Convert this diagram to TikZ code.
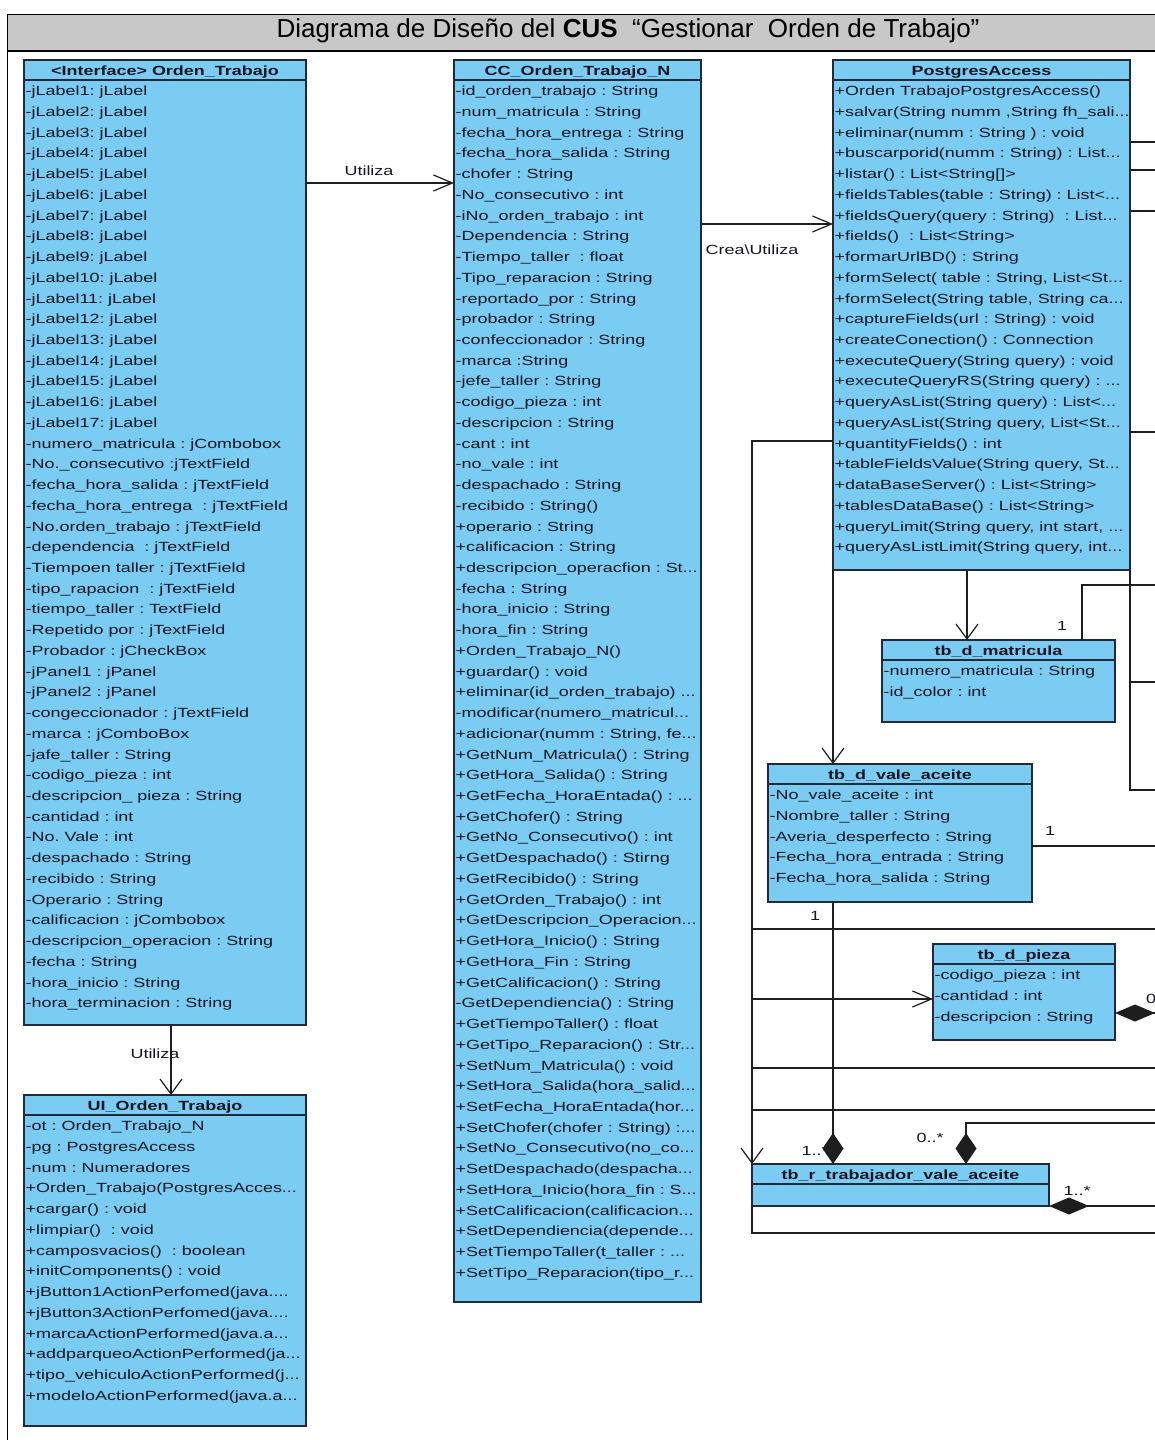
\documentclass[tikz,border=0pt]{standalone}
\usepackage{fontspec}
\setmainfont{Liberation Sans}
\newfontfamily\umlfont[FakeStretch=1.35]{Liberation Sans}
\usetikzlibrary{arrows.meta,calc}

\definecolor{boxblue}{RGB}{122,204,243}
\definecolor{boxline}{RGB}{35,40,58}
\definecolor{headgray}{RGB}{200,200,200}
\definecolor{ink}{RGB}{22,22,34}
\definecolor{wire}{RGB}{30,30,30}

\newcommand\umlsize{\fontsize{13.3}{20.73}\selectfont}
\newcommand\rowstrut{\rule{0pt}{12pt}}

\tikzset{
  umlbox/.style={draw=boxline, fill=boxblue, line width=1.4pt, inner sep=0pt, outer sep=0pt, anchor=north west},
  sepline/.style={draw=boxline, line width=1.2pt},
  headtext/.style={font=\umlfont\bfseries\umlsize, text=ink, inner sep=0pt, anchor=base},
  rowtext/.style={font=\umlfont\umlsize, text=ink, inner sep=0pt, anchor=north west, align=left},
  lbl/.style={font=\umlfont\umlsize, text=ink, inner sep=0pt, anchor=base},
  conn/.style={draw=wire, line width=1.2pt},
  harrow/.style={-{Straight Barb[length=19pt,width=16pt]}},
  varrow/.style={-{Straight Barb[length=15pt,width=22pt]}},
  hdiamond/.style={-{Diamond[length=40pt,width=17pt]}},
  vdiamond/.style={-{Diamond[length=31pt,width=21pt]}},
}

% #1 name, #2 x, #3 y, #4 width, #5 height, #6 class name, #7 compartment rows
\newcommand\umlclass[7]{%
  \node[umlbox, minimum width=#4pt, minimum height=#5pt] (#1) at (#2,#3) {};
  \draw[sepline] ($(#1.north west)+(0,20)$) -- ($(#1.north east)+(0,20)$);
  \node[headtext] (#1-head) at ($(#1.north)+(0,15)$) {#6};
  \begin{scope}
    \clip (#1.north west) rectangle (#1.south east);
    \node[rowtext] (#1-rows) at ($(#1.north west)+(1.5,23.5)$) {\rowstrut#7};
  \end{scope}
}

\begin{document}
\frenchspacing
\begin{tikzpicture}[x=1pt,y=-1pt]
\useasboundingbox (0,0) rectangle (1155,1440);
\clip (0,0) rectangle (1155,1440);
\fill[white] (0,0) rectangle (1155,1440);

% title band and frame
\fill[headgray] (7,14) rectangle (1160,51);
\draw[line width=1pt] (1160,14) -- (7,14) -- (7,1445);
\draw[line width=2pt] (7,51) -- (1160,51);
\node[font=\fontsize{26}{30}\selectfont, anchor=base, inner sep=0pt] (title) at (628,37.5)
  {Diagrama de Diseño del \textbf{CUS}\ \ “Gestionar\ \ Orden de Trabajo”};

% classes
\umlclass{ot}{24}{60}{282}{965}{<Interface> Orden\_Trabajo}{%
-jLabel1: jLabel\\-jLabel2: jLabel\\-jLabel3: jLabel\\-jLabel4: jLabel\\-jLabel5: jLabel\\%
-jLabel6: jLabel\\-jLabel7: jLabel\\-jLabel8: jLabel\\-jLabel9: jLabel\\-jLabel10: jLabel\\%
-jLabel11: jLabel\\-jLabel12: jLabel\\-jLabel13: jLabel\\-jLabel14: jLabel\\-jLabel15: jLabel\\%
-jLabel16: jLabel\\-jLabel17: jLabel\\%
-numero\_matricula : jCombobox\\-No.\_consecutivo :jTextField\\-fecha\_hora\_salida : jTextField\\%
-fecha\_hora\_entrega\ \ : jTextField\\-No.orden\_trabajo : jTextField\\-dependencia\ \ : jTextField\\%
-Tiempoen taller : jTextField\\-tipo\_rapacion\ \ : jTextField\\-tiempo\_taller : TextField\\%
-Repetido por : jTextField\\-Probador : jCheckBox\\-jPanel1 : jPanel\\-jPanel2 : jPanel\\%
-congeccionador : jTextField\\-marca : jComboBox\\-jafe\_taller : String\\-codigo\_pieza : int\\%
-descripcion\_ pieza : String\\-cantidad : int\\-No. Vale : int\\-despachado : String\\%
-recibido : String\\-Operario : String\\-calificacion : jCombobox\\-descripcion\_operacion : String\\%
-fecha : String\\-hora\_inicio : String\\-hora\_terminacion : String}

\umlclass{ui}{24}{1095}{282}{331}{UI\_Orden\_Trabajo}{%
-ot : Orden\_Trabajo\_N\\-pg : PostgresAccess\\-num : Numeradores\\+Orden\_Trabajo(PostgresAcces...\\%
+cargar() : void\\+limpiar()\ \ : void\\+camposvacios()\ \ : boolean\\+initComponents() : void\\%
+jButton1ActionPerfomed(java....\\+jButton3ActionPerfomed(java....\\+marcaActionPerformed(java.a...\\%
+addparqueoActionPerformed(ja...\\+tipo\_vehiculoActionPerformed(j...\\+modeloActionPerformed(java.a...}

\umlclass{cc}{454}{60}{247}{1242}{CC\_Orden\_Trabajo\_N}{%
-id\_orden\_trabajo : String\\-num\_matricula : String\\-fecha\_hora\_entrega : String\\%
-fecha\_hora\_salida : String\\-chofer : String\\-No\_consecutivo : int\\-iNo\_orden\_trabajo : int\\%
-Dependencia : String\\-Tiempo\_taller\ \ : float\\-Tipo\_reparacion : String\\-reportado\_por : String\\%
-probador : String\\-confeccionador : String\\-marca :String\\-jefe\_taller : String\\%
-codigo\_pieza : int\\-descripcion : String\\-cant : int\\-no\_vale : int\\-despachado : String\\%
-recibido : String()\\+operario : String\\+calificacion : String\\+descripcion\_operacfion : St...\\%
-fecha : String\\-hora\_inicio : String\\-hora\_fin : String\\+Orden\_Trabajo\_N()\\+guardar() : void\\%
+eliminar(id\_orden\_trabajo) ...\\-modificar(numero\_matricul...\\+adicionar(numm : String, fe...\\%
+GetNum\_Matricula() : String\\+GetHora\_Salida() : String\\+GetFecha\_HoraEntada() : ...\\%
+GetChofer() : String\\+GetNo\_Consecutivo() : int\\+GetDespachado() : Stirng\\+GetRecibido() : String\\%
+GetOrden\_Trabajo() : int\\+GetDescripcion\_Operacion...\\+GetHora\_Inicio() : String\\%
+GetHora\_Fin : String\\+GetCalificacion() : String\\-GetDependiencia() : String\\%
+GetTiempoTaller() : float\\+GetTipo\_Reparacion() : Str...\\+SetNum\_Matricula() : void\\%
+SetHora\_Salida(hora\_salid...\\+SetFecha\_HoraEntada(hor...\\+SetChofer(chofer : String) :...\\%
+SetNo\_Consecutivo(no\_co...\\+SetDespachado(despacha...\\+SetHora\_Inicio(hora\_fin : S...\\%
+SetCalificacion(calificacion...\\+SetDependiencia(depende...\\+SetTiempoTaller(t\_taller : ...\\%
+SetTipo\_Reparacion(tipo\_r...}

\umlclass{pa}{833}{60}{297}{510}{PostgresAccess}{%
+Orden TrabajoPostgresAccess()\\+salvar(String numm ,String fh\_sali...\\+eliminar(numm : String ) : void\\%
+buscarporid(numm : String) : List...\\+listar() : List<String[]>\\+fieldsTables(table : String) : List<...\\%
+fieldsQuery(query : String)\ \ : List...\\+fields()\ \ : List<String>\\+formarUrlBD() : String\\%
+formSelect( table : String, List<St...\\+formSelect(String table, String ca...\\%
+captureFields(url : String) : void\\+createConection() : Connection\\+executeQuery(String query) : void\\%
+executeQueryRS(String query) : ...\\+queryAsList(String query) : List<...\\%
+queryAsList(String query, List<St...\\+quantityFields() : int\\+tableFieldsValue(String query, St...\\%
+dataBaseServer() : List<String>\\+tablesDataBase() : List<String>\\%
+queryLimit(String query, int start, ...\\+queryAsListLimit(String query, int...}

\umlclass{mat}{882}{640}{233}{82}{tb\_d\_matricula}{%
-numero\_matricula : String\\-id\_color : int}

\umlclass{va}{768}{764}{264}{138}{tb\_d\_vale\_aceite}{%
-No\_vale\_aceite : int\\-Nombre\_taller : String\\-Averia\_desperfecto : String\\%
-Fecha\_hora\_entrada : String\\-Fecha\_hora\_salida : String}

\umlclass{pz}{933}{944}{182}{96}{tb\_d\_pieza}{%
-codigo\_pieza : int\\-cantidad : int\\-descripcion : String}

\umlclass{tbr}{752}{1164}{297}{42}{tb\_r\_trabajador\_vale\_aceite}{}

% free ends at the right border
\coordinate (e8) at (1160,1123);
\coordinate (e9) at (1160,1206);
\coordinate (e10) at (1160,1013);
\coordinate (e11) at (1160,846);
\coordinate (e12) at (1160,585);
\coordinate (e13a) at (1160,142);
\coordinate (e13b) at (1160,170);
\coordinate (e13c) at (1160,211);
\coordinate (e13d) at (1160,432);
\coordinate (e14a) at (1160,790);
\coordinate (e14b) at (1160,682);
\coordinate (e15a) at (1160,929);
\coordinate (e15c) at (1160,1068);
\coordinate (e15d) at (1160,1110);
\coordinate (e16) at (1160,1233);
% junctions on the left trunk line
\coordinate (j1) at (752,929);
\coordinate (j2) at (752,999);
\coordinate (j3) at (752,1068);
\coordinate (j4) at (752,1110);

% multiplicities partly hidden by the diamonds
\node[lbl] (m-va-tbr) at (815,1155) {1..*};
\node[lbl] (m-x-tbr) at (930,1142) {0..*};
\node[lbl, anchor=base west] (m-x-pz) at (1146,1003) {0..*};

% connectors
\draw[conn, harrow] ($(ot.north east)+(0,123)$) -- ($(cc.north west)+(0,123)$);
\draw[conn, harrow] ($(cc.north east)+(0,164)$) -- ($(pa.north west)+(0,164)$);
\draw[conn, varrow] ($(ot.south west)+(147,0)$) -- ($(ui.north west)+(147,0)$);
\draw[conn, varrow] ($(pa.south west)+(134,0)$) -- ($(mat.north west)+(85,0)$);
\draw[conn, varrow] (pa.south west) -- ($(va.north west)+(65,0)$);
\draw[conn, varrow] ($(pa.north west)+(0,381)$) -| (tbr.north west);
\draw[conn, vdiamond] ($(va.south west)+(65,0)$) -- ($(tbr.north west)+(81,0)$);
\draw[conn, vdiamond] (e8) -| ($(tbr.north west)+(214,0)$);
\draw[conn, hdiamond] (e9) -- (tbr.south east);
\draw[conn, hdiamond] (e10) -- ($(pz.north east)+(0,69)$);
\draw[conn] ($(va.north east)+(0,82)$) -- (e11);
\draw[conn] ($(mat.north west)+(200,0)$) |- (e12);
\draw[conn] ($(pa.north east)+(0,82)$) -- (e13a);
\draw[conn] ($(pa.north east)+(0,110)$) -- (e13b);
\draw[conn] ($(pa.north east)+(0,151)$) -- (e13c);
\draw[conn] ($(pa.north east)+(0,372)$) -- (e13d);
\draw[conn] (pa.south east) |- (e14a);
\draw[conn] ($(pa.south east)+(0,112)$) -- (e14b);
\draw[conn] (j1) -- (e15a);
\draw[conn, harrow] (j2) -- ($(pz.north west)+(0,55)$);
\draw[conn] (j3) -- (e15c);
\draw[conn] (j4) -- (e15d);
\draw[conn] (tbr.south west) |- (e16);

% labels
\node[lbl] (l-util1) at (369,175) {Utiliza};
\node[lbl] (l-crea) at (752,254) {Crea\textbackslash Utiliza};
\node[lbl] (l-util2) at (155,1058) {Utiliza};
\node[lbl] (m-pa-mat) at (1062,630) {1};
\node[lbl] (m-va-right) at (1050,835) {1};
\node[lbl] (m-va-bottom) at (815,920) {1};
\node[lbl] (m-tbr-right) at (1077,1195) {1..*};
\end{tikzpicture}
\end{document}
